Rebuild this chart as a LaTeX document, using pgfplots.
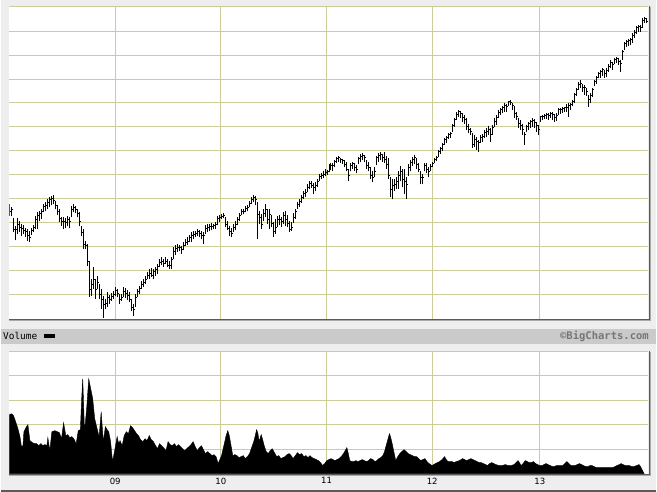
\documentclass[border=0pt]{standalone}
\usepackage{pgfplots}
\pgfplotsset{compat=1.18}
\usepackage{pgfplotstable}
\usepackage{fontspec}
\setmainfont{DejaVu Sans}
\newfontfamily\monofont{DejaVu Sans Mono}
\definecolor{bg}{RGB}{238,238,238}
\definecolor{gridc}{RGB}{204,204,153}
\definecolor{edge}{RGB}{90,90,90}
\definecolor{edgetwo}{RGB}{170,170,170}
\definecolor{band}{RGB}{202,202,202}
\definecolor{logo}{RGB}{118,118,118}
\pgfplotstableread{
x lo hi cl
9 103 115 108
11 103 112 110
13 87 101 90
15 79 93 90
17 85 101 95
19 87 98 92
21 83 95 91
23 85 94 89
25 82 91 88
27 78 90 84
29 77 88 82
31 84 91 89
33 87 94 92
35 90 103 100
37 90 107 104
39 98 108 106
41 100 110 108
43 107 115 113
45 108 117 114
47 110 120 117
49 112 122 120
51 114 123 121
53 115 124 119
55 110 118 114
57 104 114 108
59 97 110 101
61 93 102 98
63 90 102 98
65 91 101 97
67 93 103 100
69 91 102 98
71 102 113 110
73 107 115 112
75 106 113 110
77 102 110 106
79 93 107 98
81 83 93 87
83 70 90 75
85 70 78 74
87 53 75 58
89 22 58 30
91 23 40 35
93 30 52 40
95 20 40 30
97 30 43 37
99 20 35 25
101 10 30 20
103 1 23 15
105 10 20 16
107 12 27 22
109 15 24 20
111 18 26 23
113 20 28 25
115 23 32 29
117 22 30 26
119 15 25 20
121 18 25 22
123 22 32 28
125 21 31 26
127 19 29 24
129 17 27 20
131 8 20 12
133 3 15 10
135 12 25 22
137 22 30 28
139 25 33 31
141 30 38 35
143 32 40 37
145 35 43 40
147 40 47 44
149 40 50 46
151 42 51 44
153 40 50 48
155 43 52 50
157 45 55 53
159 52 60 57
161 54 62 58
163 52 60 56
165 55 62 58
167 52 60 54
169 50 58 54
171 50 62 60
173 60 72 68
175 64 74 71
177 67 75 72
179 68 74 72
181 65 73 70
183 69 77 74
185 73 80 77
187 74 82 78
189 77 84 82
191 77 87 84
193 80 88 85
195 82 88 86
197 83 90 88
199 82 89 86
201 80 88 84
203 75 87 84
205 85 94 91
207 87 95 92
209 88 95 93
211 89 96 93
213 90 95 94
215 90 97 95
217 94 103 101
219 97 104 102
221 100 105 103
223 101 106 104
225 92 102 95
227 89 98 91
229 83 93 88
231 82 91 86
233 87 95 92
235 89 98 95
237 94 102 100
239 98 106 104
241 104 110 108
243 105 110 108
245 107 113 111
247 108 114 112
249 112 118 116
251 115 122 120
253 117 124 122
255 114 123 120
257 80 117 105
259 95 108 102
261 90 105 95
263 98 110 106
265 102 115 110
267 95 110 100
269 90 110 105
271 92 104 96
273 82 97 88
275 85 100 92
277 92 103 100
279 94 104 100
281 92 102 98
283 95 107 104
285 93 108 100
287 92 104 96
289 87 98 90
291 88 97 92
293 96 106 102
295 100 110 108
297 110 117 115
299 112 120 118
301 116 124 122
303 120 128 126
305 122 130 127
307 127 135 132
309 130 138 136
311 131 138 134
313 125 136 132
315 128 137 134
317 132 140 138
319 138 145 143
321 140 146 144
323 141 148 145
325 143 150 147
327 144 149 148
329 147 155 152
331 149 157 154
333 148 156 154
335 152 160 158
337 157 163 161
339 158 164 162
341 156 162 160
343 155 161 159
345 152 160 155
347 148 158 150
349 138 150 144
351 148 157 154
353 150 158 156
355 148 157 152
357 146 154 150
359 155 163 161
361 158 166 163
363 160 167 164
365 158 165 162
367 150 160 154
369 148 158 152
371 140 152 144
373 137 148 142
375 142 152 148
377 154 164 162
379 158 167 164
381 160 168 165
383 158 166 162
385 157 168 160
387 150 164 155
389 140 162 144
391 122 142 130
393 120 140 134
395 128 140 135
397 130 142 138
399 130 148 144
401 138 153 148
403 132 150 140
405 125 150 138
407 120 142 135
409 143 155 152
411 148 160 157
413 153 163 160
415 155 165 162
417 150 162 155
419 147 157 150
421 135 148 142
423 135 145 142
425 148 157 154
427 146 156 150
429 142 152 148
431 148 155 153
433 152 158 156
435 156 162 160
437 159 164 162
439 163 170 168
441 166 173 171
443 169 177 175
445 175 182 180
447 177 184 182
449 181 187 185
451 182 188 186
453 188 196 194
455 193 202 200
457 200 208 205
459 203 210 208
461 202 209 206
463 198 207 202
465 196 205 200
467 190 202 193
469 187 196 190
471 185 192 188
473 172 187 175
475 173 185 180
477 170 183 178
479 168 180 177
481 177 185 182
483 178 186 183
485 182 190 187
487 183 192 188
489 185 194 190
491 178 192 185
493 185 195 192
495 193 202 198
497 195 205 202
499 202 210 207
501 205 212 210
503 207 214 212
505 208 217 214
507 208 216 213
509 214 219 218
511 215 220 217
513 210 217 214
515 202 214 206
517 200 208 203
519 192 202 196
521 190 200 194
523 185 196 190
525 175 188 185
527 188 195 193
529 190 198 196
531 192 200 198
533 193 202 199
535 192 201 197
537 188 198 194
539 185 195 190
541 198 204 203
543 200 205 203
545 201 206 204
547 201 207 205
549 200 207 204
551 202 208 206
553 200 208 205
555 198 206 202
557 199 207 204
559 205 212 210
561 206 212 210
563 207 213 211
565 208 213 212
567 208 216 212
569 203 217 214
571 210 217 215
573 214 220 218
575 217 227 225
577 224 232 230
579 230 238 235
581 232 240 236
583 228 236 232
585 225 235 232
587 224 232 228
589 213 225 220
591 217 227 224
593 223 232 230
595 234 240 238
597 236 244 242
599 242 248 246
601 242 250 248
603 244 252 250
605 242 250 246
607 243 252 249
609 248 256 253
611 252 260 257
613 250 258 255
615 256 262 260
617 257 263 261
619 255 262 258
621 248 260 256
623 260 270 268
625 270 278 276
627 273 280 278
629 274 281 279
631 275 282 280
633 277 287 284
635 282 290 287
637 286 294 292
639 288 295 293
641 288 295 292
643 292 302 299
645 297 303 301
647 297 302 298
}\price
\pgfplotstableread{
x v
8.4 59
10.5 60
12.6 58
14.7 52
17 45
19 37
20.5 27
22 28
23 42
25 46
27 49
29 33
31.5 31
33.5 30
35.6 30
38 28
40 30
42 28
44 29
46 28
47 36
49 23
51 42
54 43
56.5 42
58.6 41
60.7 35
62.8 51
65 38
67 39
69 36
71 37
73 35
75.4 30
77.5 43
79.6 44
80.9 75
82 95
83.8 42
85.9 65
88 95
90 85
92 75
94 55
96.4 45
98.4 37
100.5 62
102.6 32
104.7 47
106.5 44
108 42
109.8 33
111.9 12
114 23
116.5 37
118 30
119.4 33
121.5 28
123.6 38
125.7 42
127.8 40
129.9 48
132 46
134 43
136 40
138 38
140 34
142.4 32
144.5 35
146.5 33
148.7 38
150.8 34
152.9 32
155 28
157 25
159 30
161 28
163 26
165.5 23
167.6 32
169.7 29
171.8 28
174 30
176 27
178 29
180 27
182 25
184.3 23
186.4 25
188.5 27
190.6 29
192.7 32
194.8 27
196.9 23
199 26
201 28
203 24
205 20
207.3 22
209.5 20
211.6 18
213.7 19
215.7 17
217.8 10
219.5 14
221.2 18
222.6 24
224 30
225.8 38
227.5 43
229 38
230.4 30
232.5 18
234.6 19
236.7 18
238.8 16
240.9 17
243 18
245 15
247.2 17
249.3 20
251.4 26
253.5 32
255 38
256.4 44
257.7 40
259 32
260 36
261 39
262.5 34
264 28
266 22
268 20
270 23
272 25
274.3 21
276.5 17
278.6 18
280.7 15
282.8 16
284.9 17
287 19
289 20
291 18
293 15
295.2 18
297.4 21
299.5 19
301.6 20
303.7 17
305.8 18
308 16
310 18
312 16
314.2 15
316.3 14
318.4 13
320.5 11
322.6 8
324.7 10
326.8 13
329 14
331 15
333 14
335 13
337 14
339 15
341.2 17
343.5 20
345.2 23
346.9 26
348.4 20
349.8 13
352 12
354 12
356 13
358 12
360.2 13
362.4 14
364.5 13
366.6 12
368.7 13
370.8 15
373 14
375 12
377 13
379 15
381 16
383 18
384.7 22
386.3 28
388 34
389.6 40
390.7 37
391.7 33
392.8 28
393.8 23
394.9 18
395.9 13
398 17
400 20
402 22
404.3 24
406.4 22
408.5 20
410.5 19
412.6 18
414.7 17
416.8 17
419 15
421 13
423 14
425.2 15
427.3 12
429.4 10
431 9
432.3 8
434 9
435.7 10
437.8 11
439.9 12
442.4 14
444.9 17
446.6 14
448.3 12
450.4 12
452.4 12
454.5 11
456.6 12
459.8 13
463 15
465 14
467 13
469.2 14
471.3 15
473.4 14
475.5 13
477.6 12
479.7 11
481.8 11
483.9 10
486 9
488 8
490 10
492.2 11
494.3 10
496.4 9
499.5 8
502.7 8
505.8 9
509 8
511.8 8
514.5 9
516.6 11
518.6 13
520 11
521.6 8
523.7 10
525.8 13
528 12
530 11
532 11
534.1 12
536.2 10
538.3 9
540.4 8
542.5 8
544.6 9
546.7 10
548.8 9
550.9 8
553 7
555 7
557 8
559.3 8
561.4 8
563.5 8
565.6 10
567.6 12
569.7 10
571.8 8
574 8
576 8
578 9
580.2 10
582.3 9
584.4 8
586.5 7
588.6 7
590.7 8
592.8 8
595 7
597 6
599 6
601.2 6
603.3 6
605.4 6
607.5 6
609.6 6
611.7 6
613.7 6
615.8 7
617.9 8
620 9
622 10
624 9
626.3 8
628.4 8
630.5 8
632.6 7
634.7 7
637.4 8
640 9
641.5 7
643 4
645 0
}\volume
\begin{document}
\begin{tikzpicture}
\fill[bg] (0bp,0bp) rectangle (657bp,493bp);
% volume band
\fill[band] (0bp,148bp) rectangle (657bp,163bp);
\node[anchor=west, inner sep=0pt, font=\monofont\fontsize{9.5}{9.5}\selectfont] at (2bp,155.8bp) {Volume};
\fill[black] (43bp,154bp) rectangle (54.5bp,157.5bp);
\node[anchor=east, inner sep=0pt, text=logo, font=\monofont\bfseries\fontsize{10.6}{10.6}\selectfont] at (650bp,155.5bp) {©BigCharts.com};
% bottom line of image
\draw[edge, line width=2bp] (0bp,1bp) -- (657bp,1bp);
% price panel
\begin{axis}[
  at={(8.4bp,173bp)}, anchor=south west,
  scale only axis, width=641bp, height=314bp,
  xmin=8.4, xmax=649.4, ymin=0, ymax=314,
  axis line style={draw=none},
  axis background/.style={fill=white},
  xtick={114.8,220.6,326.5,432.6,540.6}, xticklabels={},
  ytick={24.7,48.7,...,288.7}, yticklabels={},
  major tick length=0pt,
  grid=major, major grid style={draw=gridc, line width=1bp},
]
\addplot[draw=none, mark=none, forget plot,
  error bars/.cd, y dir=plus, y explicit, error mark=none,
  error bar style={draw=black, line width=1bp}]
  table[x=x, y=lo, y error expr=\thisrow{hi}-\thisrow{lo}] {\price};
\addplot[only marks, mark=-, mark size=0.6bp, mark options={draw=black, line width=1bp, xshift=0.9bp}]
  table[x=x, y=cl] {\price};
\end{axis}
\draw[gridc, line width=1bp] (8.4bp,486.5bp) -- (649.4bp,486.5bp);
\draw[edge, line width=1bp] (8bp,172.5bp) -- (650.4bp,172.5bp) -- (650.4bp,487bp);
\draw[edgetwo, line width=1bp] (8bp,171.5bp) -- (651.4bp,171.5bp) -- (651.4bp,486bp);
% volume panel
\begin{axis}[
  at={(8.4bp,18bp)}, anchor=south west,
  scale only axis, width=641bp, height=123bp,
  xmin=8.4, xmax=649.4, ymin=0, ymax=123,
  axis line style={draw=none},
  axis background/.style={fill=white},
  xtick={114.6,220.5,326.5,432.5,540.5}, xticklabels={09,10,11,12,13},
  xticklabel style={font=\fontsize{8.6}{8.6}\selectfont, inner sep=0pt, anchor=north, yshift=-4bp},
  ytick={24.5,49,73.5,98}, yticklabels={},
  major tick length=0pt,
  grid=major, major grid style={draw=gridc, line width=1bp},
]
\addplot[fill=black, draw=black, line width=0.4bp] table[x=x, y=v] {\volume} \closedcycle;
\end{axis}
\draw[gridc, line width=1bp] (8.4bp,140.5bp) -- (649.4bp,140.5bp);
\draw[edge, line width=1bp] (8bp,17.5bp) -- (650.4bp,17.5bp) -- (650.4bp,141bp);
\draw[edgetwo, line width=1bp] (8bp,16.5bp) -- (651.4bp,16.5bp) -- (651.4bp,140bp);
\end{tikzpicture}
\end{document}
